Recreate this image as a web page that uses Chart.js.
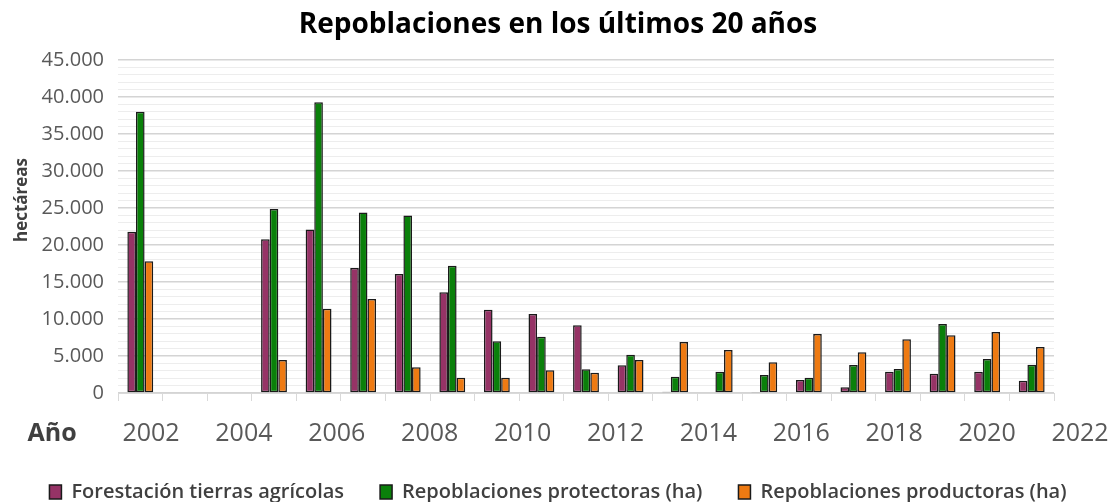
<!DOCTYPE html>
<html><head><meta charset="utf-8">
<script src="https://cdn.jsdelivr.net/npm/chart.js@4"></script>
<style>html,body{margin:0;padding:0;background:#fff}#wrap{width:1112px;height:502px;position:relative}</style>
</head><body><div id="wrap"><canvas id="c"></canvas></div>
<script>
const years = [2002,2003,2004,2005,2006,2007,2008,2009,2010,2011,2012,2013,2014,2015,2016,2017,2018,2019,2020,2021,2022];
const forestacion = [21800,null,null,20770,22100,16900,16080,13600,11260,10680,9140,3740,180,100,60,1760,770,2880,2610,2880,1660];
const protectoras = [38000,null,null,24860,39280,24400,24000,17200,6980,7610,3200,5180,2210,2880,2430,2070,3780,3240,9320,4590,3830];
const productoras = [17800,null,null,4460,11400,12700,3470,2070,2070,3060,2750,4460,6890,5800,4140,7970,5500,7250,7790,8240,6210];
const yearTickLabels = [2002,2004,2006,2008,2010,2012,2014,2016,2018,2020,2022];
const seriesNames = ['Forestación tierras agrícolas','Repoblaciones protectoras (ha)','Repoblaciones productoras (ha)'];
const titleText = 'Repoblaciones en los últimos 20 años';
const yTitle = 'hectáreas';
const xTitle = 'Año';

const FONT = "'Open Sans', 'DejaVu Sans', sans-serif";
const PAD_LEFT = 4;
const AXIS_LABEL_POS = 1999.87;

function fmt(v){ return String(v).replace(/\B(?=(\d{3})+(?!\d))/g,'.'); }

new Chart(document.getElementById('c'), {
  type: 'bar',
  data: {
    labels: years.map(String),
    datasets: [
      {label: seriesNames[0], data: forestacion, backgroundColor: '#963366'},
      {label: seriesNames[1], data: protectoras, backgroundColor: '#0a800a'},
      {label: seriesNames[2], data: productoras, backgroundColor: '#ee7a12'}
    ].map(d => Object.assign(d, {borderColor: '#1a1a1a', borderWidth: 1.5, borderSkipped: false, barPercentage: 1, categoryPercentage: 0.58}))
  },
  options: {
    responsive: true, maintainAspectRatio: false, animation: false,
    layout: {padding: {left: PAD_LEFT, right: 0, top: 0, bottom: -10}},
    plugins: {
      title: {display: true, text: titleText, color: '#000', font: {family: FONT, size: 28, weight: 'bold'}, padding: {top: 8, bottom: 18.4}},
      legend: {position: 'bottom', labels: {color: '#404040', font: {family: FONT, size: 20, weight: '600'}, boxWidth: 12, boxHeight: 14, padding: 36}},
      tooltip: {enabled: false}
    },
    scales: {
      x: {
        type: 'category', position: 'bottom', weight: 0,
        grid: {offset: true, drawOnChartArea: false, drawTicks: true, tickLength: 8, color: '#d9d9d9'},
        border: {display: true, color: '#d9d9d9', width: 1},
        ticks: {display: false},
        afterFit: s => { s.height = 8; }
      },
      xl: {
        type: 'linear', position: 'bottom', weight: 1, offset: false, min: 2001.29, max: 2021.44,
        grid: {display: false, drawTicks: false}, border: {display: false},
        afterBuildTicks: s => { s.ticks = [{value: AXIS_LABEL_POS}].concat(yearTickLabels.map(v => ({value: v}))); },
        afterFit: s => { s.paddingLeft = 0; s.paddingRight = 58; s.height = 45; },
        ticks: {
          autoSkip: false, maxRotation: 0, minRotation: 0, padding: 18,
          callback: v => v < 2000 ? xTitle : String(v),
          font: ctx => (ctx.tick && ctx.tick.value < 2000) ? {family: FONT, size: 25, weight: 'bold'} : {family: FONT, size: 25},
          color: ctx => (ctx.tick && ctx.tick.value < 2000) ? '#404040' : '#595959'
        }
      },
      y: {
        min: 0, max: 45000,
        afterFit: s => { s.width = 118 - PAD_LEFT; },
        border: {display: false},
        grid: {drawTicks: false, color: ctx => (ctx.tick && ctx.tick.value % 5000 === 0) ? '#d4d4d4' : '#ededed', lineWidth: ctx => (ctx.tick && ctx.tick.value % 5000 === 0) ? 1.5 : 1},
        ticks: {stepSize: 1000, autoSkip: false, padding: 14, color: '#595959', font: {family: FONT, size: 20},
          callback: v => v % 5000 === 0 ? fmt(v) : ''},
        title: {display: true, text: ' '.repeat(12) + yTitle, color: '#404040', font: {family: FONT, size: 17, weight: 'bold'}, padding: {top: 8, bottom: 0}}
      }
    }
  }
});
</script></body></html>
